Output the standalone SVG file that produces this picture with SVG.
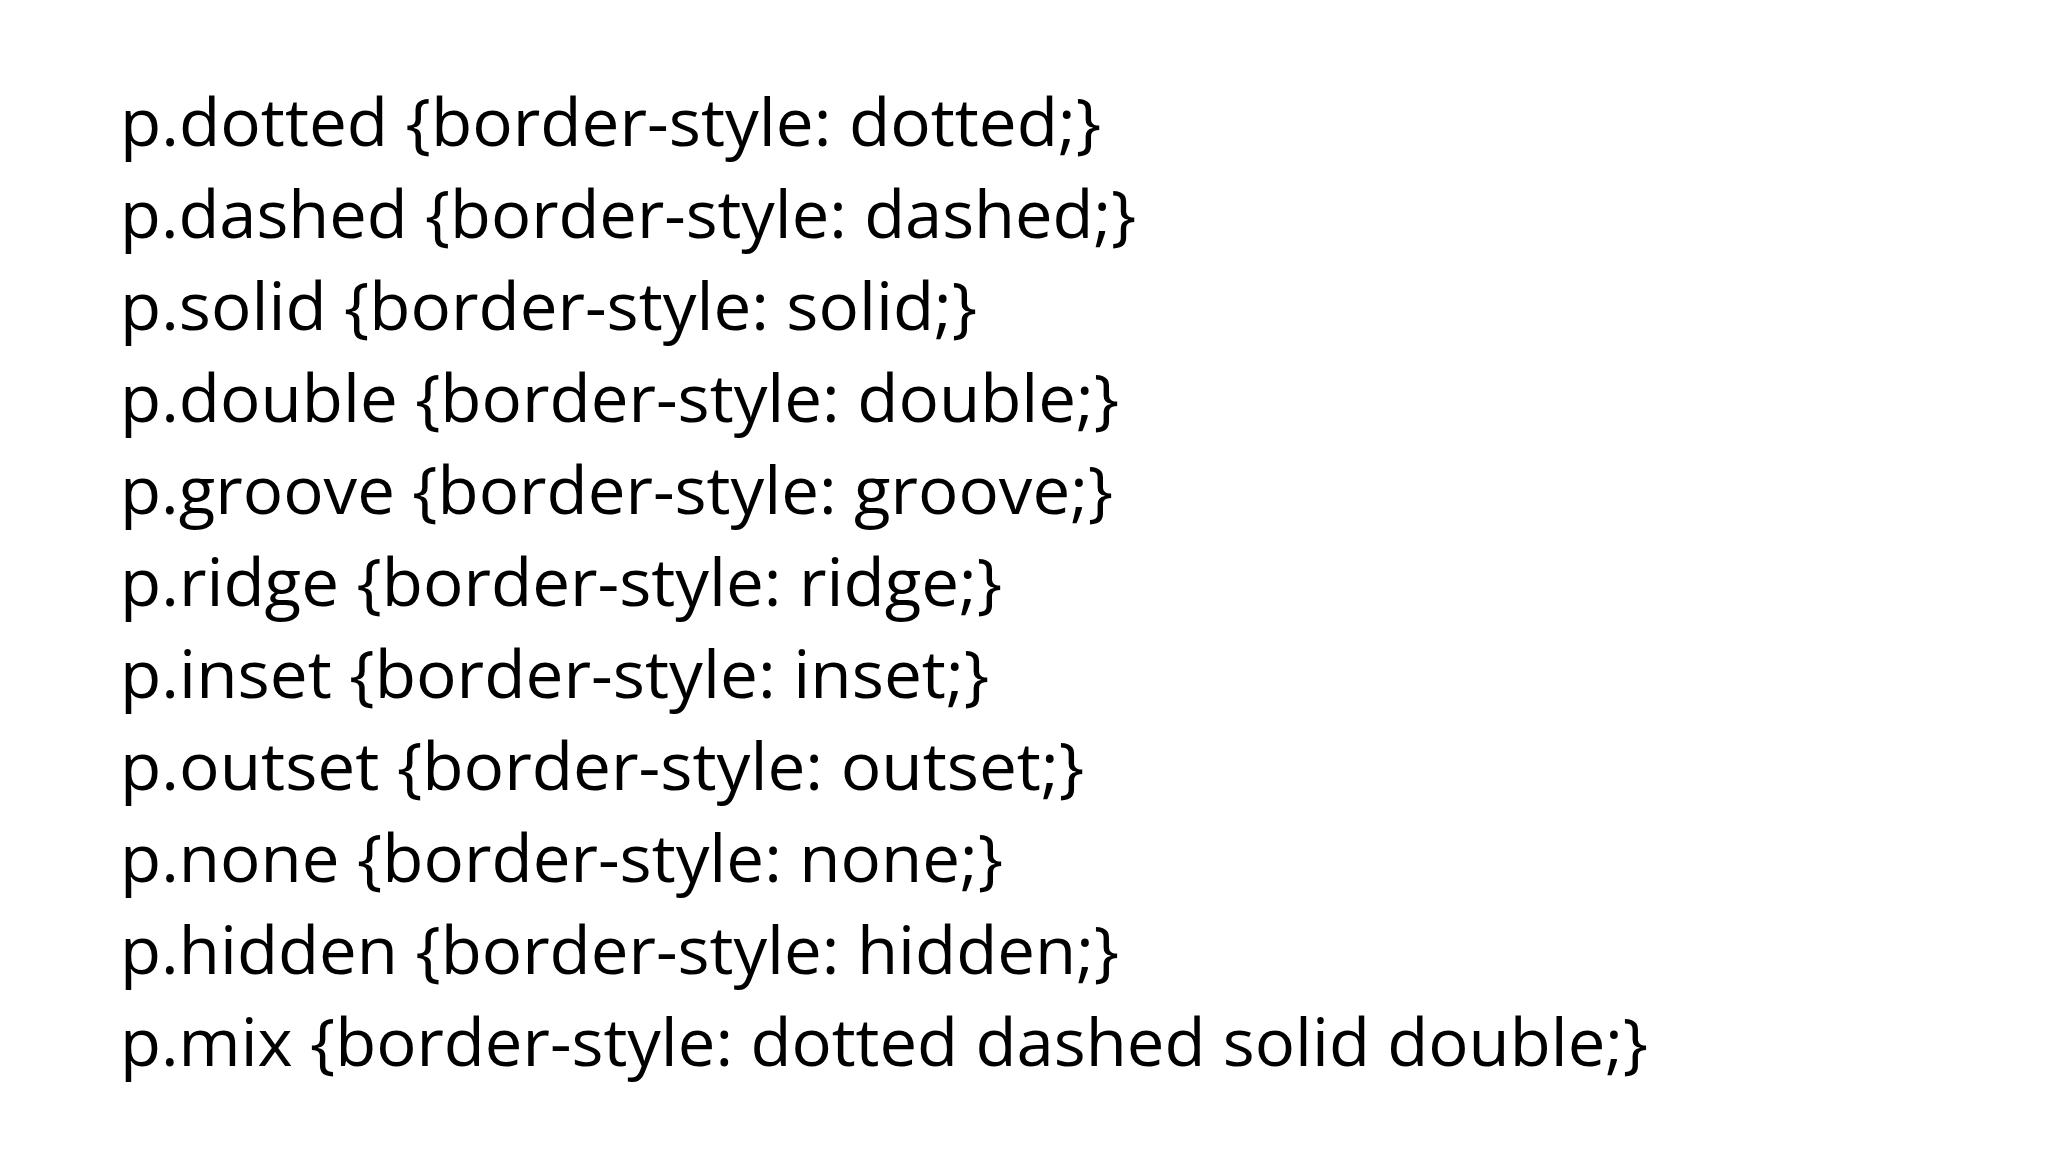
<svg xmlns="http://www.w3.org/2000/svg" width="2048" height="1152" viewBox="0 0 2048 1152">
<style>text{font-family:"Open Sans","Liberation Sans",sans-serif;font-size:66px;fill:#000}</style>
<rect width="2048" height="1152" fill="#fff"/>
<g id="code">
<text x="120" y="146" textLength="981" lengthAdjust="spacingAndGlyphs">p.dotted {border-style: dotted;}</text>
<text x="120" y="238" textLength="1016" lengthAdjust="spacingAndGlyphs">p.dashed {border-style: dashed;}</text>
<text x="120" y="330" textLength="857" lengthAdjust="spacingAndGlyphs">p.solid {border-style: solid;}</text>
<text x="120" y="422" textLength="999" lengthAdjust="spacingAndGlyphs">p.double {border-style: double;}</text>
<text x="120" y="514" textLength="993" lengthAdjust="spacingAndGlyphs">p.groove {border-style: groove;}</text>
<text x="120" y="606" textLength="882" lengthAdjust="spacingAndGlyphs">p.ridge {border-style: ridge;}</text>
<text x="120" y="698" textLength="869" lengthAdjust="spacingAndGlyphs">p.inset {border-style: inset;}</text>
<text x="120" y="790" textLength="964" lengthAdjust="spacingAndGlyphs">p.outset {border-style: outset;}</text>
<text x="120" y="882" textLength="883" lengthAdjust="spacingAndGlyphs">p.none {border-style: none;}</text>
<text x="120" y="974" textLength="999" lengthAdjust="spacingAndGlyphs">p.hidden {border-style: hidden;}</text>
<text x="120" y="1066" textLength="1528" lengthAdjust="spacingAndGlyphs">p.mix {border-style: dotted dashed solid double;}</text>
</g>
</svg>
